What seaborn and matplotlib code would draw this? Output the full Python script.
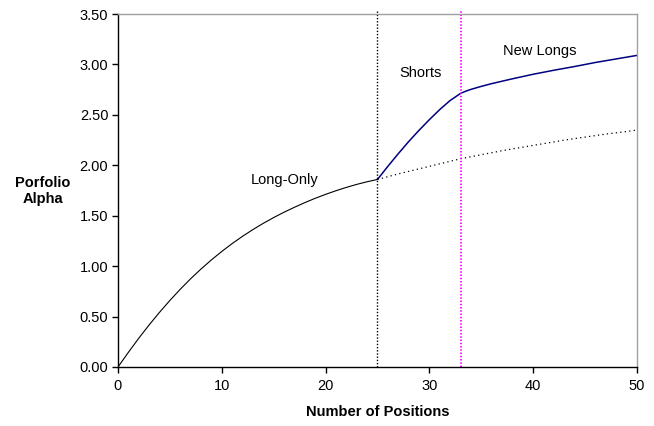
import matplotlib
matplotlib.use("Agg")
import matplotlib.pyplot as plt
import seaborn as sns
import pandas as pd

# ---- data ----
long_x = list(range(0, 26))
long_y = [0.000, 0.145, 0.285, 0.417, 0.542, 0.660, 0.771, 0.875, 0.972, 1.062,
          1.146, 1.224, 1.296, 1.363, 1.425, 1.482, 1.535, 1.584, 1.630, 1.673,
          1.712, 1.748, 1.781, 1.811, 1.837, 1.860]

cont_x = [25, 27, 29, 31, 33, 35, 37, 39, 41, 43, 45, 47, 49, 50]
cont_y = [1.86, 1.915, 1.965, 2.015, 2.065, 2.105, 2.145, 2.18, 2.215,
          2.25, 2.28, 2.31, 2.335, 2.35]

ls_x = [25, 26, 27, 28, 29, 30, 31, 32, 33, 33.5, 34, 35, 36, 38, 40, 42, 44, 46, 48, 50]
ls_y = [1.86, 1.99, 2.115, 2.235, 2.347, 2.453, 2.553, 2.643, 2.713, 2.735, 2.753,
        2.783, 2.81, 2.858, 2.903, 2.943, 2.98, 3.02, 3.055, 3.09]

vlines_x = [25, 33]
xticks = [0, 10, 20, 30, 40, 50]
yticks = [0.0, 0.5, 1.0, 1.5, 2.0, 2.5, 3.0, 3.5]

labels = ["Long-Only", "Shorts", "New Longs"]
label_x = [16.1, 29.1, 40.6]
label_y = [1.85, 2.92, 3.13]

# ---- style ----
sns.set_style("white")
plt.rcParams["font.family"] = ["Liberation Sans", "DejaVu Sans"]
plt.rcParams["text.color"] = "black"
plt.rcParams["axes.labelcolor"] = "black"
plt.rcParams["xtick.color"] = "black"
plt.rcParams["ytick.color"] = "black"

fig = plt.figure(figsize=(6.54, 4.26), dpi=100)
ax = fig.add_axes([0.1804, 0.1385, 0.7936, 0.8285])

df_long = pd.DataFrame({"x": long_x, "y": long_y})
df_cont = pd.DataFrame({"x": cont_x, "y": cont_y})
df_ls = pd.DataFrame({"x": ls_x, "y": ls_y})

sns.lineplot(data=df_long, x="x", y="y", ax=ax, color="black", lw=0.8)
sns.lineplot(data=df_cont, x="x", y="y", ax=ax, color="black", lw=0.9,
             linestyle=(0, (1, 2.6)))
sns.lineplot(data=df_ls, x="x", y="y", ax=ax, color="#000080", lw=1.1)

ax.axvline(vlines_x[0], ymin=0, ymax=1.012, color="black", lw=1.0,
           linestyle=(0, (1, 1.3)), clip_on=False)
ax.axvline(vlines_x[1], ymin=0, ymax=1.012, color="#FF00FF", lw=1.3,
           linestyle=(0, (0.8, 1.0)), clip_on=False)

for t, xx, yy in zip(labels, label_x, label_y):
    ax.text(xx, yy, t, ha="center", va="center", fontsize=10.5, color="black")

ax.set_xlim(0, 50)
ax.set_ylim(0, 3.5)
ax.set_xticks(xticks)
ax.set_xticklabels([str(v) for v in xticks])
ax.set_yticks(yticks)
ax.set_yticklabels([f"{v:.2f}" for v in yticks])
ax.tick_params(axis="both", direction="out", length=4, width=1, color="black",
               labelcolor="black", labelsize=10.5, left=True, bottom=True, pad=3)
ax.tick_params(axis="x", pad=5)

for s in ["left", "bottom"]:
    ax.spines[s].set_color("black")
    ax.spines[s].set_linewidth(1.0)
for s in ["top", "right"]:
    ax.spines[s].set_color("#a0a0a0")
    ax.spines[s].set_linewidth(1.0)

ax.set_xlabel("Number of Positions", fontsize=10.5, fontweight="bold",
              labelpad=8, color="black")
ax.set_ylabel("")
fig.text(43 / 654, 1 - 191 / 426, "Porfolio\nAlpha", ha="center", va="center",
         fontsize=10.5, fontweight="bold", linespacing=1.25, color="black")

fig.savefig("out.png", dpi=100)
